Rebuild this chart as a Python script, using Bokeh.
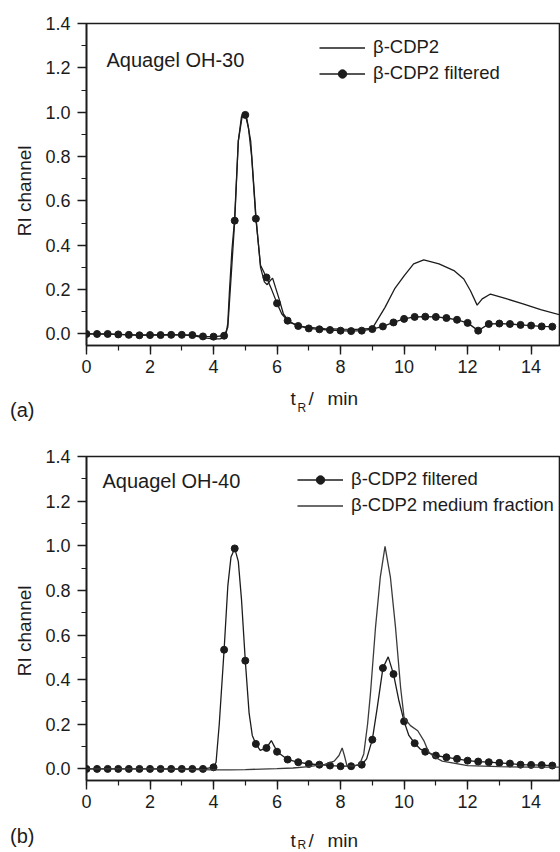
import math
from bokeh.plotting import figure
from bokeh.layouts import column
from bokeh.models import (Label, Legend, LegendItem, SingleIntervalTicker, FixedTicker, Range1d,
                          LinearAxis, CustomJSTickFormatter)
from bokeh.embed import file_html
from bokeh.resources import INLINE

# ---------------- data ----------------
# sampling grid of the marker points (every 1/3 min)
sample_t = [0.0, 0.333, 0.667, 1.0, 1.333, 1.667, 2.0, 2.333, 2.667, 3.0, 3.333, 3.667,
            4.0, 4.333, 4.667, 5.0, 5.333, 5.667, 6.0, 6.333, 6.667, 7.0, 7.333, 7.667,
            8.0, 8.333, 8.667, 9.0, 9.333, 9.667, 10.0, 10.333, 10.667, 11.0, 11.333, 11.667,
            12.0, 12.333, 12.667, 13.0, 13.333, 13.667, 14.0, 14.333, 14.667]

# panel (a): Aquagel OH-30
cdp2_a_t = [0.0, 0.5, 1.0, 1.5, 2.0, 2.5, 3.0, 3.4, 3.7, 4.0, 4.2, 4.38, 4.45, 4.5, 4.58,
            4.66, 4.78, 4.88, 4.96, 5.05, 5.17, 5.34, 5.48, 5.6, 5.69, 5.78, 5.86, 5.95, 6.05,
            6.2, 6.4, 6.7, 7.0, 7.5, 8.0, 8.5, 9.0, 9.4, 9.7, 10.0, 10.3, 10.62, 11.1, 11.57,
            11.88, 12.09, 12.3, 12.46, 12.72, 13.24, 13.77, 14.3, 14.93]
cdp2_a_y = [0.0, -0.001, -0.002, -0.004, -0.004, -0.003, -0.004, -0.008, -0.018, -0.022, -0.022,
            -0.015, 0.05, 0.19, 0.38, 0.51, 0.87, 0.98, 1.0, 0.97, 0.87, 0.52, 0.30, 0.235, 0.222,
            0.24, 0.252, 0.21, 0.165, 0.09, 0.052, 0.035, 0.03, 0.024, 0.022, 0.021, 0.025, 0.12,
            0.203, 0.262, 0.316, 0.334, 0.316, 0.286, 0.248, 0.195, 0.13, 0.158, 0.18, 0.158,
            0.135, 0.11, 0.085]

filt_a_y = [0.0, 0.0, 0.0, -0.002, -0.004, -0.006, -0.005, -0.005, -0.004, -0.004, -0.005, -0.011,
            -0.012, -0.008, 0.511, 0.988, 0.52, 0.255, 0.138, 0.060, 0.036, 0.025, 0.021, 0.018,
            0.015, 0.013, 0.015, 0.022, 0.034, 0.052, 0.068, 0.077, 0.078, 0.077, 0.072, 0.064,
            0.050, 0.015, 0.045, 0.047, 0.045, 0.041, 0.038, 0.034, 0.033]
# extra points of the filtered trace between the markers
filt_a_extra_t = [4.45, 4.55, 4.78, 4.9, 5.1, 5.2, 5.48, 5.83, 6.15]
filt_a_extra_y = [0.03, 0.25, 0.87, 0.98, 0.93, 0.80, 0.31, 0.20, 0.09]

# panel (b): Aquagel OH-40
filt_b_y = [0.0, 0.0, 0.0, 0.0, 0.0, 0.0, 0.0, 0.0, 0.0, 0.0, 0.0, 0.0,
            0.007, 0.534, 0.988, 0.485, 0.112, 0.094, 0.077, 0.042, 0.030, 0.022, 0.019, 0.015,
            0.012, 0.012, 0.019, 0.131, 0.452, 0.425, 0.213, 0.115, 0.077, 0.060, 0.052, 0.045,
            0.037, 0.033, 0.030, 0.027, 0.024, 0.019, 0.018, 0.017, 0.015]
filt_b_extra_t = [4.08, 4.18, 4.45, 4.55, 4.78, 4.88, 5.12, 5.22, 5.47, 5.82, 5.92,
                  8.82, 9.15, 9.5, 9.83, 10.15, 10.5]
filt_b_extra_y = [0.03, 0.20, 0.82, 0.95, 0.93, 0.76, 0.25, 0.15, 0.083, 0.127, 0.10,
                  0.045, 0.27, 0.502, 0.31, 0.15, 0.09]

medium_b_t = [0.0, 2.0, 4.0, 4.5, 5.0, 5.5, 6.0, 6.5, 7.0, 7.5, 7.8, 7.95, 8.05, 8.12, 8.2, 8.4,
              8.6, 8.73, 8.85, 8.94, 9.1, 9.25, 9.4, 9.57, 9.73, 9.89, 10.0, 10.2, 10.43, 10.62,
              10.78, 11.0, 11.2, 12.0, 13.0, 14.0, 14.93]
medium_b_y = [0.0, 0.0, -0.004, -0.004, -0.003, -0.001, 0.001, 0.004, 0.01, 0.02, 0.035, 0.06,
              0.094, 0.06, 0.015, 0.012, 0.02, 0.067, 0.2, 0.336, 0.634, 0.858, 0.997, 0.858,
              0.634, 0.365, 0.23, 0.194, 0.171, 0.127, 0.074, 0.05, 0.035, 0.015, 0.01, 0.008,
              0.008]

x_tick_interval = 2
y_tick_interval = 0.2

# ---------------- styling ----------------
FONT = "Liberation Sans"
INK = "#1c1c1c"
FRAME_W = 474
LEFT = 86


def merged(t1, y1, t2, y2):
    pts = sorted(zip(list(t1) + list(t2), list(y1) + list(y2)))
    return [p[0] for p in pts], [p[1] for p in pts]


def base_figure(top, frame_h, bottom, ylab_pos):
    p = figure(frame_width=FRAME_W, frame_height=frame_h,
               min_border_left=LEFT, min_border_right=0,
               min_border_top=top, min_border_bottom=bottom,
               x_range=Range1d(0, 14.925), y_range=Range1d(-0.052, 1.4001),
               output_backend="svg", toolbar_location=None)
    p.grid.visible = False
    p.outline_line_color = INK
    p.outline_line_width = 1.6
    p.background_fill_color = "white"
    p.border_fill_color = "white"
    for ax, iv in ((p.xaxis[0], x_tick_interval), (p.yaxis[0], y_tick_interval)):
        ax.ticker = SingleIntervalTicker(interval=iv, num_minor_ticks=2)
        ax.axis_line_color = INK
        ax.axis_line_width = 1.6
        ax.major_tick_line_color = INK
        ax.major_tick_line_width = 1.4
        ax.minor_tick_line_color = INK
        ax.minor_tick_line_width = 1.2
        ax.major_tick_in = 0
        ax.minor_tick_in = 0
        ax.major_tick_out = 9
        ax.minor_tick_out = 5
        ax.major_label_text_font = FONT
        ax.major_label_text_font_size = "18px"
        ax.major_label_text_color = INK
    p.xaxis[0].major_label_standoff = 5
    p.yaxis[0].major_label_standoff = 7
    p.yaxis[0].formatter = CustomJSTickFormatter(code="return tick.toFixed(1);")

    # "RI channel" title placed in pixel units of the frame height
    p.extra_y_ranges = {"px": Range1d(0, frame_h)}
    lab = LinearAxis(y_range_name="px", ticker=FixedTicker(ticks=[ylab_pos]),
                     major_label_overrides={ylab_pos: "RI channel"},
                     major_label_orientation=math.pi / 2,
                     axis_line_color=None, major_tick_line_color=None,
                     minor_tick_line_color=None, major_label_standoff=12,
                     major_label_text_font=FONT, major_label_text_font_size="19px",
                     major_label_text_color=INK)
    p.add_layout(lab, "left")
    return p


def add_text(p, text, x, y, size):
    p.add_layout(Label(x=x, y=y, x_units="screen", y_units="screen", text=text,
                       text_font=FONT, text_font_size=size, text_color=INK,
                       text_align="left", text_baseline="middle"))


def label_strip(h, t_y, r_y, letter, letter_y):
    s = figure(frame_width=FRAME_W, frame_height=h,
               min_border_left=LEFT, min_border_right=0, min_border_top=0, min_border_bottom=0,
               x_range=Range1d(0, FRAME_W), y_range=Range1d(0, h),
               x_axis_location=None,
               output_backend="svg", toolbar_location=None)
    s.grid.visible = False
    s.outline_line_color = None
    s.background_fill_color = "white"
    s.border_fill_color = "white"
    ax = s.yaxis[0]
    ax.ticker = FixedTicker(ticks=[letter_y])
    ax.major_label_overrides = {letter_y: letter}
    ax.axis_line_color = None
    ax.major_tick_line_color = None
    ax.minor_tick_line_color = None
    ax.major_label_standoff = 46
    ax.major_label_text_font = FONT
    ax.major_label_text_font_size = "20px"
    ax.major_label_text_color = INK
    add_text(s, "t", 204, t_y, "19px")
    add_text(s, "R", 211, r_y, "12px")
    add_text(s, "/", 222, t_y, "19px")
    add_text(s, "min", 241, t_y, "19px")
    return s


def style_legend(p, items, loc):
    lg = Legend(items=items, location=loc, orientation="vertical",
                label_text_font=FONT, label_text_font_size="18.5px", label_text_color=INK,
                glyph_width=46, glyph_height=21, label_height=21, label_standoff=8,
                spacing=4, padding=0, margin=0,
                border_line_alpha=0, background_fill_alpha=0)
    p.add_layout(lg)


# ---------------- panel (a) ----------------
pa = base_figure(23, 322, 40, 200)
r_a_raw = pa.line(cdp2_a_t, cdp2_a_y, line_color=INK, line_width=1.3)
fa_t, fa_y = merged(sample_t, filt_a_y, filt_a_extra_t, filt_a_extra_y)
r_a_fl = pa.line(fa_t, fa_y, line_color=INK, line_width=1.3)
r_a_fd = pa.scatter(sample_t, filt_a_y, size=7, marker="circle", fill_color=INK, line_color=INK)
style_legend(pa, [LegendItem(label="β-CDP2", renderers=[r_a_raw]),
                  LegendItem(label="β-CDP2 filtered", renderers=[r_a_fl, r_a_fd])], (233, 261))
add_text(pa, "Aquagel OH-30", 20, 286, "20px")
la = label_strip(45, 32, 23, "(a)", 21)

# ---------------- panel (b) ----------------
pb = base_figure(26, 324, 40, 195)
fb_t, fb_y = merged(sample_t, filt_b_y, filt_b_extra_t, filt_b_extra_y)
r_b_fl = pb.line(fb_t, fb_y, line_color=INK, line_width=1.3)
r_b_fd = pb.scatter(sample_t, filt_b_y, size=7, marker="circle", fill_color=INK, line_color=INK)
r_b_med = pb.line(medium_b_t, medium_b_y, line_color="#3a3a3a", line_width=1.3)
style_legend(pb, [LegendItem(label="β-CDP2 filtered", renderers=[r_b_fl, r_b_fd]),
                  LegendItem(label="β-CDP2 medium fraction", renderers=[r_b_med])], (211, 264))
add_text(pb, "Aquagel OH-40", 16, 300, "20px")
lb = label_strip(32, 12, 8, "(b)", 17)

layout = column(pa, la, pb, lb, spacing=0)
open("out.html", "w").write(file_html(layout, INLINE))
